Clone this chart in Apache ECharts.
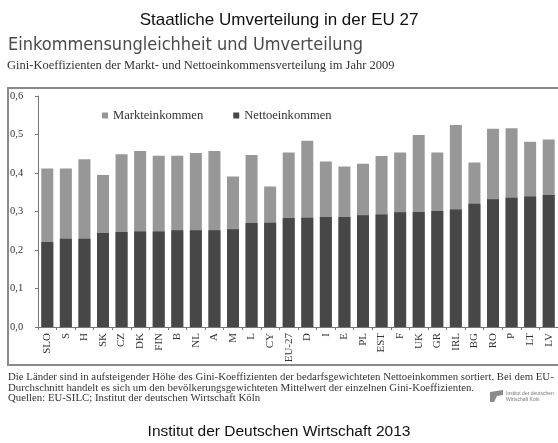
<!DOCTYPE html>
<html>
<head>
<meta charset="utf-8">
<script src="https://cdn.jsdelivr.net/npm/echarts@6/dist/echarts.min.js"></script>
<style>
html,body{margin:0;padding:0;background:#fff;}
#chart{width:558px;height:443px;}
</style>
</head>
<body>
<div id="chart"></div>
<script>
var categories = ['SLO','S','H','SK','CZ','DK','FIN','B','NL','A','M','L','CY','EU-27','D','I','E','PL','EST','F','UK','GR','IRL','BG','RO','P','LT','LV'];
var marketIncome = [0.412,0.412,0.436,0.395,0.449,0.457,0.445,0.445,0.452,0.457,0.391,0.447,0.365,0.453,0.484,0.430,0.417,0.424,0.444,0.453,0.499,0.453,0.525,0.427,0.515,0.516,0.481,0.487];
var netIncome = [0.221,0.229,0.229,0.244,0.247,0.248,0.248,0.251,0.251,0.251,0.254,0.270,0.271,0.283,0.284,0.286,0.286,0.290,0.292,0.298,0.299,0.301,0.305,0.320,0.332,0.336,0.339,0.343];
var yTicks = [0, 0.1, 0.2, 0.3, 0.4, 0.5, 0.6];

var chart = echarts.init(document.getElementById('chart'));
var serif = 'Liberation Serif';
chart.setOption({
  animation: false,
  backgroundColor: '#fff',
  legend: {
    data: ['Markteinkommen', 'Nettoeinkommen'],
    left: 97, top: 104, itemWidth: 6, itemHeight: 6, itemGap: 30, icon: 'rect',
    textStyle: {fontFamily: serif, fontSize: 12.6, color: '#333'}
  },
  grid: {left: 38, right: 0, top: 96, bottom: 116, containLabel: false},
  xAxis: {
    type: 'category', data: categories,
    axisLine: {lineStyle: {color: '#777'}},
    axisTick: {show: true, alignWithLabel: false, length: 3, lineStyle: {color: '#777'}},
    axisLabel: {rotate: 90, interval: 0, margin: 6, fontFamily: serif, fontSize: 11, color: '#333'}
  },
  yAxis: {
    type: 'value', min: 0, max: 0.6, interval: 0.1,
    axisLine: {show: true, lineStyle: {color: '#777'}},
    axisTick: {show: true, length: 3, lineStyle: {color: '#777'}},
    splitLine: {show: false},
    axisLabel: {fontFamily: serif, fontSize: 10.5, color: '#333', margin: 28, align: 'left',
      formatter: function (v) { return v.toFixed(1).replace('.', ','); }}
  },
  series: [
    {name: 'Markteinkommen', type: 'bar', data: marketIncome, barWidth: 12, barGap: '-100%',
     itemStyle: {color: '#979797'}},
    {name: 'Nettoeinkommen', type: 'bar', data: netIncome, barWidth: 12,
     itemStyle: {color: '#474747'}}
  ],
  graphic: [
    {type: 'text', left: 'center', top: 12, style: {text: 'Staatliche Umverteilung in der EU 27', font: '17px "Liberation Sans"', fill: '#111'}},
    {type: 'text', left: 8, top: 36, style: {text: 'Einkommensungleichheit und Umverteilung', font: '18px "DejaVu Sans Condensed", "DejaVu Sans"', fill: '#4a4a4a'}},
    {type: 'text', left: 7, top: 59, style: {text: 'Gini-Koeffizienten der Markt- und Nettoeinkommensverteilung im Jahr 2009', font: '12.5px "Liberation Serif"', fill: '#333'}},
    {type: 'rect', shape: {x: 8, y: 88, width: 560, height: 277}, style: {fill: 'none', stroke: '#8a8a8a', lineWidth: 2}, silent: true, z: 100},
    {type: 'text', left: 8, top: 372, style: {text: 'Die Länder sind in aufsteigender Höhe des Gini-Koeffizienten der bedarfsgewichteten Nettoeinkommen sortiert. Bei dem EU-\nDurchschnitt handelt es sich um den bevölkerungsgewichteten Mittelwert der einzelnen Gini-Koeffizienten.\nQuellen: EU-SILC; Institut der deutschen Wirtschaft Köln', font: '10.8px "Liberation Serif"', fill: '#333', lineHeight: 10.5}},
    {type: 'polygon', shape: {points: [[490,392],[503,390],[503,395],[497,396],[494,402],[490,402]]}, style: {fill: '#8a8a8a'}},
    {type: 'text', left: 506, top: 391, style: {text: 'Institut der deutschen\nWirtschaft Köln', font: '5px "Liberation Sans"', fill: '#777', lineHeight: 6}},
    {type: 'text', left: 'center', top: 424, style: {text: 'Institut der Deutschen Wirtschaft 2013', font: '15.5px "Liberation Sans"', fill: '#111'}}
  ]
});
</script>
</body>
</html>
